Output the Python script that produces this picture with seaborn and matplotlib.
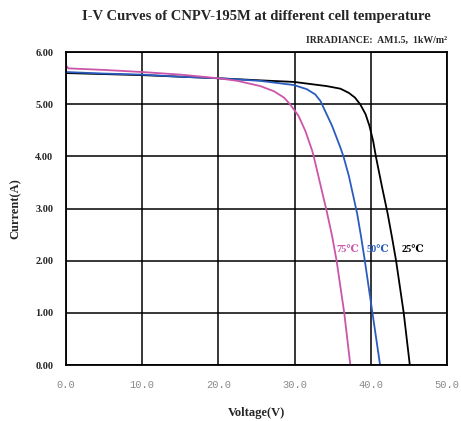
import pandas as pd
import matplotlib
matplotlib.use("Agg")
import matplotlib.pyplot as plt
import seaborn as sns

# --- data ---
v_25 = [0, 5, 10, 15, 20, 25.5, 29.9, 34.2, 36.0, 37.1, 37.9, 38.6, 39.3, 39.8,
        40.3, 40.65, 41.45, 42.2, 42.8, 43.3, 43.8, 44.3, 44.7, 45.1]
i_25 = [5.60, 5.58, 5.56, 5.53, 5.50, 5.46, 5.43, 5.35, 5.30, 5.22, 5.13, 5.00,
        4.81, 4.59, 4.29, 4.00, 3.42, 2.90, 2.42, 2.00, 1.50, 1.00, 0.50, 0.00]

v_50 = [0, 5, 10, 15, 20, 25.5, 29.9, 31.6, 32.7, 33.4, 34.0, 34.9, 36.0, 36.4,
        37.1, 37.6, 38.2, 38.7, 39.2, 39.7, 40.2, 40.7, 41.2]
i_50 = [5.62, 5.59, 5.57, 5.53, 5.50, 5.45, 5.37, 5.29, 5.19, 5.06, 4.87, 4.59,
        4.17, 4.00, 3.63, 3.30, 2.90, 2.47, 2.00, 1.50, 1.00, 0.50, 0.00]

v_75 = [0, 0.3, 5, 10, 15, 20, 22.5, 25.5, 27.3, 28.6, 29.4, 30.5, 31.4, 32.3,
        32.5, 33.1, 33.6, 34.2, 34.9, 35.5, 36.0, 36.5, 36.9, 37.3]
i_75 = [5.75, 5.69, 5.66, 5.62, 5.57, 5.50, 5.45, 5.35, 5.25, 5.13, 5.00, 4.78,
        4.49, 4.11, 4.00, 3.63, 3.32, 2.95, 2.48, 2.00, 1.50, 1.00, 0.50, 0.00]

temps = ["25℃", "50℃", "75℃"]
colors = ["#000000", "#2a5cbf", "#cc55aa"]
x_ticks = [0, 10, 20, 30, 40, 50]
y_ticks = [0, 1, 2, 3, 4, 5, 6]

# --- long table for seaborn ---
frames = []
for t, v, i in zip(temps, [v_25, v_50, v_75], [i_25, i_50, i_75]):
    frames.append(pd.DataFrame({"Voltage": v, "Current": i, "temp": t}))
df = pd.concat(frames, ignore_index=True)

sns.set_style("white")
serif = ["Liberation Serif", "DejaVu Serif"]

fig = plt.figure(figsize=(4.61, 4.21), dpi=100)
ax = fig.add_axes([0.143, 0.133, 0.827, 0.743])

sns.lineplot(data=df, x="Voltage", y="Current", hue="temp", hue_order=temps,
             palette=dict(zip(temps, colors)), estimator=None, sort=False,
             linewidth=1.3, legend=False, ax=ax)

ax.set_xlim(0, 50)
ax.set_ylim(0, 6)
ax.set_xticks(x_ticks)
ax.set_yticks(y_ticks)
ax.set_xticklabels([f"{x:.1f}" for x in x_ticks], family="Liberation Mono",
                   color="#8a8a8a", fontsize=7.5)
ax.set_yticklabels([f"{y:.2f}" for y in y_ticks], family=serif,
                   fontweight="bold", fontsize=7.5)
ax.tick_params(axis="both", length=0)
ax.tick_params(axis="x", pad=11)
ax.tick_params(axis="y", pad=9)

ax.grid(True, color="black", linewidth=1.1)
ax.set_axisbelow(True)
for s in ax.spines.values():
    s.set_color("black")
    s.set_linewidth(1.3)

ax.set_xlabel("Voltage(V)", family=serif, fontweight="bold", fontsize=9, labelpad=12)
ax.set_ylabel("Current(A)", family=serif, fontweight="bold", fontsize=9, labelpad=10)

fig.text(0.556, 0.96, "I-V Curves of CNPV-195M at different cell temperature",
         ha="center", va="center", family=serif, fontweight="bold", fontsize=10.5)
fig.text(0.970, 0.905, "IRRADIANCE:  AM1.5,  1kW/m²", ha="right", va="center",
         family=serif, fontweight="bold", fontsize=7)

# curve labels
label_x = [45.5, 40.9, 36.9]
for t, c, lx in zip(temps, colors, label_x):
    ax.text(lx, 2.22, t, color=c, ha="center", va="center", family=serif,
            fontweight="bold", fontsize=7.5)

fig.savefig("out.png", dpi=100)
